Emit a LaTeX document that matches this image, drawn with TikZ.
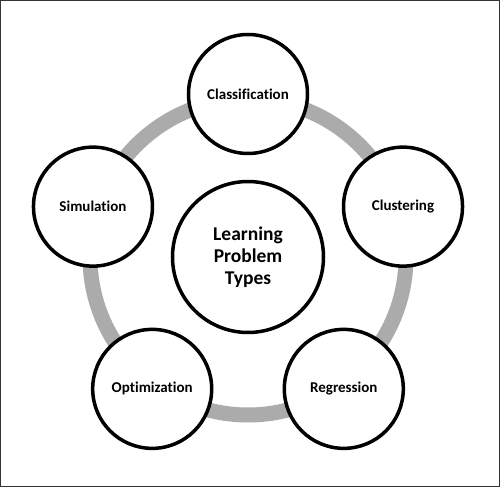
\documentclass[tikz,border=0pt]{standalone}
\usepackage{fontspec}
\setmainfont{Carlito}[Ligatures=NoCommon]
\begin{document}
\begin{tikzpicture}[x=1pt,y=1pt,
    topic/.style={circle, draw, line width=3.5pt, fill=white, minimum size=119pt, inner sep=0pt,
        font=\bfseries\fontsize{15}{17}\selectfont},
    hub/.style={topic, minimum size=151pt, align=center,
        font=\bfseries\fontsize{19.5}{22}\selectfont}]
    \useasboundingbox (-248,-230) rectangle (252,257);
    \draw[line width=1.5pt, black!80] (-247.25,-229.25) rectangle (251.25,256.25);
    \draw[line width=15pt, black!33] (0,0) circle (158);
    \node[hub] (types) at (0,0) {Learning\\Problem\\Types};
    \foreach \ang/\name/\txt in {90/class/Classification, 18/clust/Clustering, -54/regr/Regression,
        -126/optim/Optimization, 162/simul/Simulation}
        \node[topic] (\name) at (\ang:163) {\txt};
\end{tikzpicture}
\end{document}
